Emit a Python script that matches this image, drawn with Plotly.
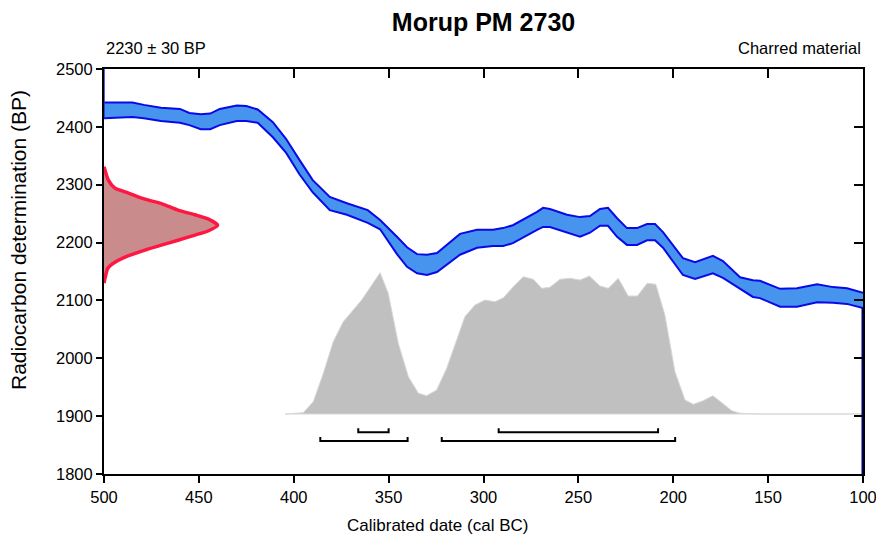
import plotly.graph_objects as go

# ---------------- data ----------------
# Calibration curve band (cal BC year, upper BP, lower BP)
cal_year = [500, 485, 479, 470, 460, 455, 449, 444, 439, 430, 425, 419, 411, 404, 397, 390,
            381, 372, 361, 354.5, 345.6, 340.3, 335, 329.8, 324.5, 312.4, 303.4, 295, 289.7,
            284.5, 271.8, 268.6, 265, 256, 249.1, 243.9, 238.6, 234.4, 229.6, 224.4, 219.1,
            213.8, 209.6, 205.4, 194.9, 188.5, 179.1, 173.8, 164.8, 158, 154.3, 143.7, 134.8,
            124.2, 115.8, 108.4, 100]
cal_upper = [2442, 2442, 2438, 2433, 2431, 2424, 2422, 2423, 2431, 2437, 2436, 2430, 2408,
             2379, 2343, 2308, 2279, 2268, 2256, 2239, 2210, 2192, 2180, 2179, 2182, 2215,
             2222, 2222, 2225, 2230, 2253, 2260, 2258, 2248, 2244, 2246, 2258, 2260, 2242,
             2225, 2225, 2232, 2232, 2218, 2173, 2166, 2177, 2168, 2140, 2135, 2134, 2120,
             2121, 2128, 2123, 2121, 2113]
cal_lower = [2415, 2417, 2415, 2410, 2407, 2403, 2396, 2396, 2403, 2410, 2410, 2407, 2382,
             2355, 2318, 2287, 2256, 2248, 2234, 2223, 2180, 2158, 2147, 2144, 2149, 2179,
             2191, 2194, 2194, 2199, 2222, 2227, 2227, 2218, 2210, 2217, 2229, 2229, 2210,
             2196, 2196, 2204, 2204, 2191, 2144, 2137, 2147, 2139, 2120, 2106, 2104, 2089,
             2089, 2097, 2096, 2094, 2087]

# Radiocarbon measurement distribution (BP level, width in years from axis)
rc_bp = [2331, 2308, 2294, 2286, 2275, 2267, 2256, 2248, 2241, 2230, 2220, 2213, 2204,
         2196, 2187, 2177, 2166, 2156, 2130]
rc_width = [0, 2.3, 5.8, 12.6, 21.6, 30.6, 39.0, 48.0, 54.8, 59.9, 54.8, 48.0, 39.0,
            30.6, 21.6, 12.6, 5.8, 2.1, 0]

# Calibrated probability distribution (year, top in BP units)
post_year = [404.6, 395.0, 389.7, 384.4, 379.2, 373.9, 364.2, 354.5, 350.2, 344.9, 339.6,
             334.3, 330.0, 324.7, 319.4, 309.8, 304.5, 299.2, 293.9, 289.5, 284.3, 279.0,
             273.8, 269.3, 265.0, 259.7, 254.4, 249.1, 244.2, 238.6, 234.2, 229.0, 223.7,
             218.9, 213.7, 209.2, 204.4, 199.1, 193.8, 189.4, 184.2, 179.2, 174.4, 169.2,
             164.8, 154.3, 100]
post_top = [1903.7, 1905.9, 1925.0, 1974.0, 2028.7, 2063.2, 2100.7, 2147.9, 2112.3, 2025.9,
            1968.2, 1939.5, 1935.3, 1945.2, 1982.7, 2071.9, 2092.1, 2100.7, 2097.8, 2104.7,
            2123.7, 2141.0, 2136.5, 2120.9, 2122.7, 2136.5, 2138.2, 2135.3, 2142.2, 2124.9,
            2120.9, 2138.2, 2107.6, 2107.6, 2129.6, 2127.9, 2074.8, 1976.8, 1927.9, 1920.5,
            1926.7, 1935.3, 1923.2, 1909.4, 1904.9, 1903.7, 1903.7]
post_base = 1903.7

# Highest posterior density ranges (from, to) cal BC
sigma1_ranges = [(366, 350), (292, 208)]
sigma2_ranges = [(386, 340), (322, 199)]
sigma1_level = 1872
sigma2_level = 1857
bracket_tick = 7

x_ticks = [500, 450, 400, 350, 300, 250, 200, 150, 100]
y_ticks = [1800, 1900, 2000, 2100, 2200, 2300, 2400, 2500]

title_text = "Morup PM 2730"
left_note = "2230 ± 30 BP"
right_note = "Charred material"
x_title = "Calibrated date (cal BC)"
y_title = "Radiocarbon determination (BP)"

FONT = "Arial, Liberation Sans, sans-serif"

# ---------------- figure ----------------
fig = go.Figure()

# posterior distribution (grey)
fig.add_trace(go.Scatter(
    x=post_year + post_year[::-1],
    y=post_top + [post_base] * len(post_year),
    fill="toself", fillcolor="#c0c0c0", mode="lines",
    line=dict(color="#d8d8d8", width=1), hoverinfo="skip", showlegend=False))

# calibration band
fig.add_trace(go.Scatter(x=cal_year, y=cal_lower, mode="lines",
                         line=dict(color="#0a0ae6", width=2), showlegend=False))
fig.add_trace(go.Scatter(x=cal_year, y=cal_upper, mode="lines", fill="tonexty",
                         fillcolor="#4694ee", line=dict(color="#0a0ae6", width=2),
                         showlegend=False))
# band edge artefacts at plot borders
fig.add_trace(go.Scatter(x=[cal_year[0], cal_year[0]], y=[cal_lower[0], y_ticks[-1]],
                         mode="lines", line=dict(color="#2a2ad8", width=1.5), showlegend=False))
fig.add_trace(go.Scatter(x=[cal_year[-1], cal_year[-1]], y=[cal_lower[-1], y_ticks[0]],
                         mode="lines", line=dict(color="#000080", width=3), showlegend=False))

# radiocarbon measurement (red)
rc_x = [500 - w for w in rc_width]
fig.add_trace(go.Scatter(x=rc_x, y=rc_bp, fill="toself", fillcolor="#c98b8b", mode="lines",
                         line=dict(color="#ff1744", width=3.5, shape="spline", smoothing=0.6),
                         showlegend=False))

# range brackets
for ranges, lvl in [(sigma1_ranges, sigma1_level), (sigma2_ranges, sigma2_level)]:
    for a, b in ranges:
        fig.add_trace(go.Scatter(x=[a, a, b, b],
                                 y=[lvl + bracket_tick, lvl, lvl, lvl + bracket_tick],
                                 mode="lines", line=dict(color="black", width=2),
                                 showlegend=False))

# invisible traces for mirror axes
fig.add_trace(go.Scatter(x=[300], y=[2000], xaxis="x2", yaxis="y2", mode="markers",
                         marker=dict(opacity=0), showlegend=False, hoverinfo="skip"))

axis_common = dict(showgrid=False, zeroline=False, linecolor="black", linewidth=2,
                   tickcolor="black", tickwidth=2, automargin=False)
fig.update_layout(
    width=876, height=540,
    margin=dict(l=104, r=13, t=69, b=66, autoexpand=False),
    paper_bgcolor="white", plot_bgcolor="white",
    font=dict(family=FONT, size=16, color="black"),
    title=dict(text="<b>" + title_text + "</b>", x=483.5 / 876, xanchor="center",
               y=1 - 22 / 540, yanchor="middle", font=dict(size=25, family=FONT)),
    xaxis=dict(range=[500, 100], tickvals=x_ticks, ticks="outside", ticklen=7,
               tickfont=dict(size=16.5), ticklabeloverflow="allow", showline=True,
               **axis_common),
    yaxis=dict(range=[1800, 2500], tickvals=y_ticks, ticks="outside", ticklen=6,
               tickfont=dict(size=16.5), ticklabeloverflow="allow", showline=True,
               **axis_common),
    xaxis2=dict(range=[500, 100], overlaying="x", side="top", tickvals=x_ticks,
                ticks="inside", ticklen=9, showticklabels=False, showline=True, **axis_common),
    yaxis2=dict(range=[1800, 2500], overlaying="y", side="right", tickvals=y_ticks,
                ticks="inside", ticklen=9, showticklabels=False, showline=True, **axis_common),
    annotations=[
        dict(text=left_note, xref="paper", yref="paper", x=0, y=1 + 21 / 405,
             xanchor="left", yanchor="middle", showarrow=False, font=dict(size=16.5)),
        dict(text=right_note, xref="paper", yref="paper", x=1, y=1 + 21 / 405,
             xanchor="right", yanchor="middle", showarrow=False, font=dict(size=16.5)),
        dict(text=x_title, xref="paper", yref="paper", x=(437 - 104) / 759, y=-51 / 405,
             xanchor="center", yanchor="middle", showarrow=False, font=dict(size=17)),
        dict(text=y_title, xref="paper", yref="paper", x=-86 / 759, y=(474 - 240) / 405,
             xanchor="center", yanchor="middle", textangle=-90, showarrow=False,
             font=dict(size=21)),
    ],
)

fig.write_html("out.html", include_plotlyjs=True, config={"displayModeBar": False},
               post_script="document.body.style.margin='0px';")
